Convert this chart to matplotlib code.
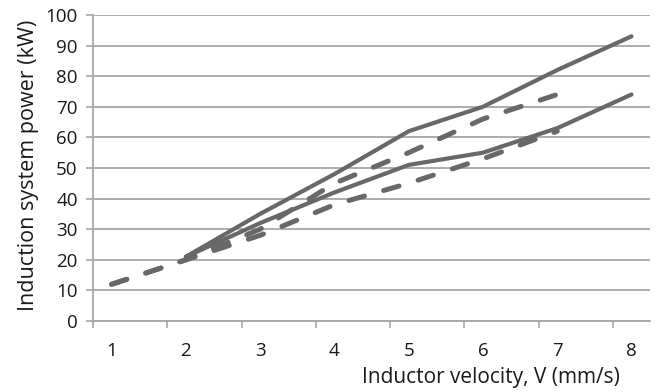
import matplotlib
matplotlib.use("Agg")
import matplotlib.pyplot as plt
import numpy as np

plt.rcParams['font.family'] = ['Open Sans', 'DejaVu Sans']

velocity = [1, 2, 3, 4, 5, 6, 7, 8]
solid_upper_x = [2, 3, 4, 5, 6, 7, 8]
solid_upper = [21, 35, 48, 62, 70, 82, 93]
solid_lower_x = [2, 3, 4, 5, 6, 7, 8]
solid_lower = [21, 32, 42, 51, 55, 63, 74]
dashed_upper_x = [1, 2, 3, 4, 5, 6, 7]
dashed_upper = [12, 20, 30, 45, 55, 66, 74]
dashed_lower_x = [1, 2, 3, 4, 5, 6, 7]
dashed_lower = [12, 20, 28, 38, 45, 53, 62]
y_ticks = [0, 10, 20, 30, 40, 50, 60, 70, 80, 90, 100]

line_color = '#686868'
grid_color = '#a6a6a6'
text_color = '#1a1a1a'
fs = 13.5

fig = plt.figure(figsize=(6.62, 3.92), dpi=100)
ax = fig.add_axes([0.1405, 0.181, 0.982 - 0.1405, 0.962 - 0.181])

ax.plot(solid_upper_x, solid_upper, color=line_color, lw=3.0, solid_capstyle='round', zorder=3)
ax.plot(solid_lower_x, solid_lower, color=line_color, lw=3.0, solid_capstyle='round', zorder=3)
ax.plot(dashed_upper_x, dashed_upper, color=line_color, lw=3.6, dashes=(3.2, 4.0),
        dash_capstyle='round', zorder=3)
ax.plot(dashed_lower_x, dashed_lower, color=line_color, lw=3.6, dashes=(3.2, 4.0),
        dash_capstyle='round', zorder=3)

ax.set_xlim(0.75, 8.25)
ax.set_ylim(0, 100)
ax.set_yticks(y_ticks)
ax.set_xticks(velocity)
ax.set_xticks([v - 0.25 for v in velocity], minor=True)
ax.tick_params(axis='x', which='major', length=0, pad=15, labelsize=fs, colors=text_color)
ax.tick_params(axis='x', which='minor', length=5, width=1.2, color=grid_color, direction='out')
ax.tick_params(axis='y', length=5, width=1.2, color=grid_color, labelsize=fs,
               labelcolor=text_color, pad=6)

ax.grid(axis='y', color=grid_color, lw=1.3, zorder=1)
ax.set_axisbelow(True)
for s in ['top', 'right']:
    ax.spines[s].set_visible(False)
for s in ['left', 'bottom']:
    ax.spines[s].set_color(grid_color)
    ax.spines[s].set_linewidth(1.3)

ax.set_ylabel('Induction system power (kW)', fontsize=15.5, color=text_color,
              va='center')
ax.yaxis.set_label_coords(-0.116, 0.51)
ax.set_xlabel('Inductor velocity, V (mm/s)', fontsize=15, color=text_color, va='center')
ax.xaxis.set_label_coords(0.945, -0.183)
ax.xaxis.label.set_horizontalalignment('right')

fig.savefig('out.png', dpi=100)
